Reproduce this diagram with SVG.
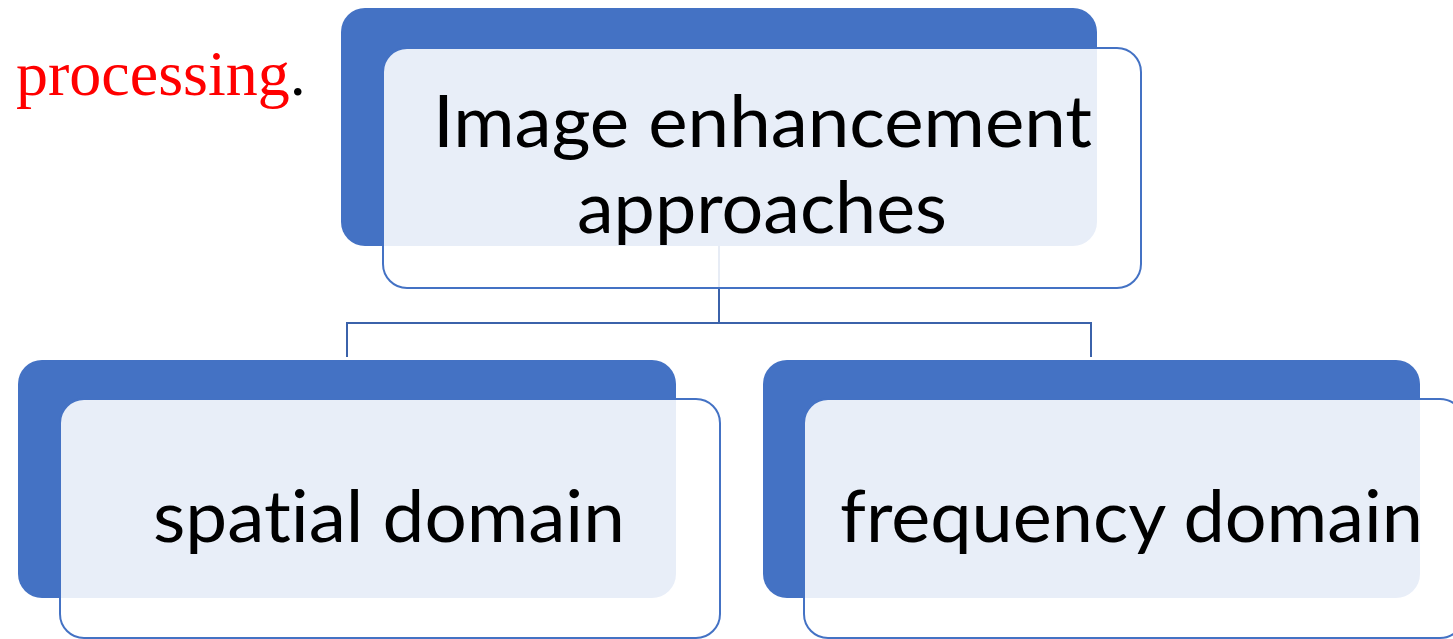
<svg xmlns="http://www.w3.org/2000/svg" width="1453" height="639" viewBox="0 0 1453 639">
<style>
.back{fill:#4472C4;}
.front{fill:#FFFFFF;fill-opacity:0.88;stroke:#4472C4;stroke-width:2;}
.lbl{font-family:Lato,"Open Sans","Liberation Sans",sans-serif;font-size:71px;fill:#000000;font-variant-ligatures:none;font-feature-settings:"liga" 0,"dlig" 0;}
.conn{fill:none;stroke:#3B62AA;stroke-width:2;}
</style>
<rect width="1453" height="639" fill="#FFFFFF"/>
<text x="16" y="95" font-family="'Liberation Serif','Times New Roman',serif" font-size="64" fill="#FF0000">processing<tspan fill="#000000">.</tspan></text>
<g id="connectors">
<path class="conn" d="M719 246 V323 M347 357 V323 H1091 V357"/>
</g>
<g id="node-root">
<rect class="back" x="341" y="8" width="756" height="238" rx="24"/>
<rect class="front" x="383" y="48" width="758" height="240" rx="24"/>
<text class="lbl"><tspan x="433" y="147" textLength="659" lengthAdjust="spacingAndGlyphs">Image enhancement</tspan><tspan x="577" y="233" textLength="370" lengthAdjust="spacingAndGlyphs">approaches</tspan></text>
</g>
<g id="node-spatial">
<rect class="back" x="18" y="360" width="658" height="238" rx="24"/>
<rect class="front" x="60" y="399" width="660" height="239" rx="24"/>
<text class="lbl" x="153" y="542" textLength="472" lengthAdjust="spacingAndGlyphs">spatial domain</text>
</g>
<g id="node-frequency">
<rect class="back" x="763" y="360" width="657" height="238" rx="24"/>
<rect class="front" x="804" y="399" width="660" height="239" rx="24"/>
<text class="lbl" x="840" y="542" textLength="583" lengthAdjust="spacingAndGlyphs">frequency domain</text>
</g>
</svg>
